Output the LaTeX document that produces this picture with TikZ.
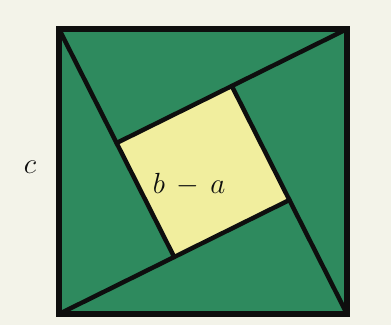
\documentclass[tikz,border=0pt]{standalone}
\usetikzlibrary{calc}
\definecolor{Paper}{HTML}{F3F3E9}
\definecolor{Leaf}{HTML}{2E8A5E}
\definecolor{Pale}{HTML}{F1EE9E}
\definecolor{Ink}{HTML}{0E0E0E}
\tikzset{
  frame/.style={draw=Ink,line width=4.4pt,line join=miter},
  cut/.style={draw=Ink,line width=3.8pt,line cap=round},
  letter/.style={font=\fontsize{30}{32}\selectfont,text=Ink,inner sep=0pt,anchor=base}
}

\begin{document}
\begin{tikzpicture}[x=0.03cm,y=-0.03cm]
  \fill[Paper] (0,0) rectangle (391,325);
  \coordinate (tl) at (59,29);
  \coordinate (tr) at (347,29);
  \coordinate (br) at (347,314);
  \coordinate (bl) at (59,314);
  \coordinate (p1) at ($(tl)!0.2!(tr) + 0.4*(bl) - 0.4*(tl)$);
  \coordinate (p2) at ($(tr)!0.2!(br) + 0.4*(tl) - 0.4*(tr)$);
  \coordinate (p3) at ($(br)!0.2!(bl) + 0.4*(tr) - 0.4*(br)$);
  \coordinate (p4) at ($(bl)!0.2!(tl) + 0.4*(br) - 0.4*(bl)$);
  \fill[Leaf] (tl) -- (tr) -- (br) -- (bl) -- cycle;
  \fill[Pale] (p1) -- (p2) -- (p3) -- (p4) -- cycle;
  \draw[cut] (tl) -- (p4);
  \draw[cut] (tr) -- (p1);
  \draw[cut] (br) -- (p2);
  \draw[cut] (bl) -- (p3);
  \draw[frame] (tl) -- (tr) -- (br) -- (bl) -- cycle;
  \node[letter] (side) at (30,173) {$c$};
  \node[letter] (diff) at (189,193) {$b\,-\,a$};
\end{tikzpicture}
\end{document}
